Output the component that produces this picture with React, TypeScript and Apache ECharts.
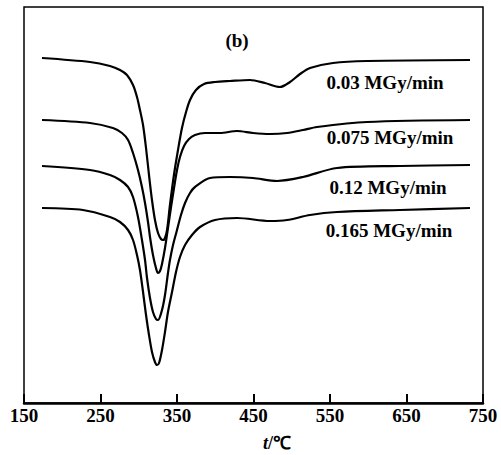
import React, { useEffect, useRef } from "react";
import * as echarts from "echarts";

// Temperature (°C) vs. heat flow (arbitrary units)
const xTicks = [150, 250, 350, 450, 550, 650, 750];
const seriesNames = ["0.03 MGy/min", "0.075 MGy/min", "0.12 MGy/min", "0.165 MGy/min"];

const curve003: [number, number][] = [
  [173.5, 34.5], [236.3, 34.1], [262.4, 33.7], [275.5, 33.3], [284.6, 32.8], [292.5, 31.8],
  [297.7, 30.6], [301.6, 29.3], [305.6, 27.8], [309.5, 25.5], [313.4, 22.8], [317.3, 20.3],
  [321.2, 18.3], [325.2, 17.0], [329.1, 16.4], [331.7, 16.3], [334.3, 16.5], [337.0, 17.3],
  [340.8, 19.8], [346.0, 22.8], [351.3, 25.3], [356.5, 27.5], [361.8, 29.1], [367.0, 30.3],
  [374.8, 31.3], [385.3, 31.9], [399.7, 32.1], [419.2, 32.2], [445.4, 32.3], [465.0, 32.0],
  [484.6, 31.6], [497.7, 32.1], [510.8, 32.9], [523.9, 33.5], [553.9, 34.0], [598.4, 34.2],
  [733.0, 34.3],
];
const curve0075: [number, number][] = [
  [173.5, 28.3], [236.3, 28.0], [266.3, 27.5], [278.1, 27.0], [286.0, 26.3], [292.5, 25.0],
  [299.0, 23.3], [304.2, 21.6], [308.2, 20.0], [312.1, 18.1], [314.7, 16.6], [318.6, 14.8],
  [322.5, 13.5], [325.2, 13.0], [327.8, 13.2], [330.4, 13.9], [334.3, 15.5], [338.2, 17.5],
  [342.2, 19.6], [346.1, 21.5], [350.0, 23.3], [353.9, 24.6], [359.2, 25.7], [365.7, 26.4],
  [373.5, 26.8], [386.6, 27.0], [406.2, 27.0], [428.4, 27.2], [449.3, 27.0], [471.6, 26.9],
  [493.8, 27.0], [514.7, 27.3], [533.0, 27.6], [598.4, 28.1], [733.0, 28.3],
];
const curve012: [number, number][] = [
  [173.5, 23.7], [236.3, 23.3], [262.4, 22.8], [275.5, 22.3], [286.0, 21.6], [292.5, 20.6],
  [299.0, 18.6], [304.2, 16.3], [308.2, 14.3], [310.8, 12.5], [314.7, 10.5], [318.6, 9.1],
  [322.5, 8.4], [325.2, 8.3], [330.4, 9.3], [334.3, 10.8], [338.2, 13.0], [340.8, 14.3],
  [344.8, 15.8], [350.0, 17.3], [355.2, 18.8], [360.5, 20.0], [367.0, 21.0], [373.5, 21.6],
  [393.1, 22.5], [419.3, 22.6], [449.3, 22.5], [480.7, 22.2], [514.7, 22.6], [559.2, 23.5],
  [641.5, 23.7], [733.0, 23.8],
];
const curve0165: [number, number][] = [
  [173.5, 19.5], [227.1, 19.3], [262.4, 18.6], [275.5, 18.1], [286.0, 17.3], [292.5, 16.3],
  [297.7, 14.8], [301.6, 13.3], [305.6, 11.1], [309.5, 8.8], [313.4, 6.8], [317.3, 5.1],
  [321.2, 4.1], [323.9, 3.8], [326.5, 4.0], [330.4, 5.3], [334.3, 7.1], [338.2, 9.1],
  [343.5, 11.1], [348.7, 13.1], [353.9, 14.6], [360.5, 15.8], [369.6, 16.8], [380.1, 17.6],
  [399.7, 18.3], [428.4, 18.5], [471.6, 18.2], [493.8, 18.3], [523.9, 18.8], [559.2, 19.1],
  [641.5, 19.3], [733.0, 19.5],
];
const curves = [curve003, curve0075, curve012, curve0165];
const labelPos: [number, number][] = [[385, 82], [390, 137], [388, 187], [389, 230]];

const FONT = '"Liberation Serif", "Times New Roman", serif';

export default function App() {
  const ref = useRef<HTMLDivElement>(null);
  useEffect(() => {
    if (!ref.current) return;
    const chart = echarts.init(ref.current, undefined, { renderer: "svg" });
    chart.setOption({
      animation: false,
      backgroundColor: "#fff",
      grid: {
        left: 24, right: 18, top: 7, bottom: 52,
        show: true, borderColor: "#000", borderWidth: 1.5, backgroundColor: "transparent",
      },
      xAxis: {
        type: "value", min: 150, max: 750, interval: 100,
        axisLine: { show: true, lineStyle: { color: "#000", width: 2.5 } },
        axisTick: { show: true, inside: true, length: 9, lineStyle: { color: "#000", width: 2 } },
        splitLine: { show: false },
        axisLabel: {
          color: "#000", fontFamily: FONT, fontWeight: "bold", fontSize: 19, margin: 3,
          formatter: (v: number) => (xTicks.includes(v) ? String(v) : ""),
        },
      },
      yAxis: { type: "value", min: 0, max: 39.6, show: false },
      series: curves.map((c, i) => ({
        name: seriesNames[i], type: "line", data: c, smooth: 0.3,
        showSymbol: false, symbol: "none", lineStyle: { color: "#000", width: 2.2 },
      })),
      graphic: [
        ...seriesNames.map((n, i) => ({
          type: "text", x: labelPos[i][0], y: labelPos[i][1],
          style: {
            text: n, fill: "#000", font: `bold 19px ${FONT}`,
            textAlign: "center", textVerticalAlign: "middle",
          },
        })),
        {
          type: "text", x: 237, y: 40,
          style: { text: "(b)", fill: "#000", font: `bold 19px ${FONT}`, textAlign: "center", textVerticalAlign: "middle" },
        },
        {
          type: "text", x: 277, y: 443,
          style: {
            text: "{i|t}{n|/℃}", textAlign: "center", textVerticalAlign: "middle",
            rich: {
              i: { fontFamily: FONT, fontStyle: "italic", fontWeight: "bold", fontSize: 18, fill: "#000" },
              n: { fontFamily: FONT, fontWeight: "bold", fontSize: 18, fill: "#000" },
            },
          },
        },
      ],
    });
    return () => chart.dispose();
  }, []);
  return <div ref={ref} style={{ width: 501, height: 455, position: "absolute", left: 0, top: 0 }} />;
}
